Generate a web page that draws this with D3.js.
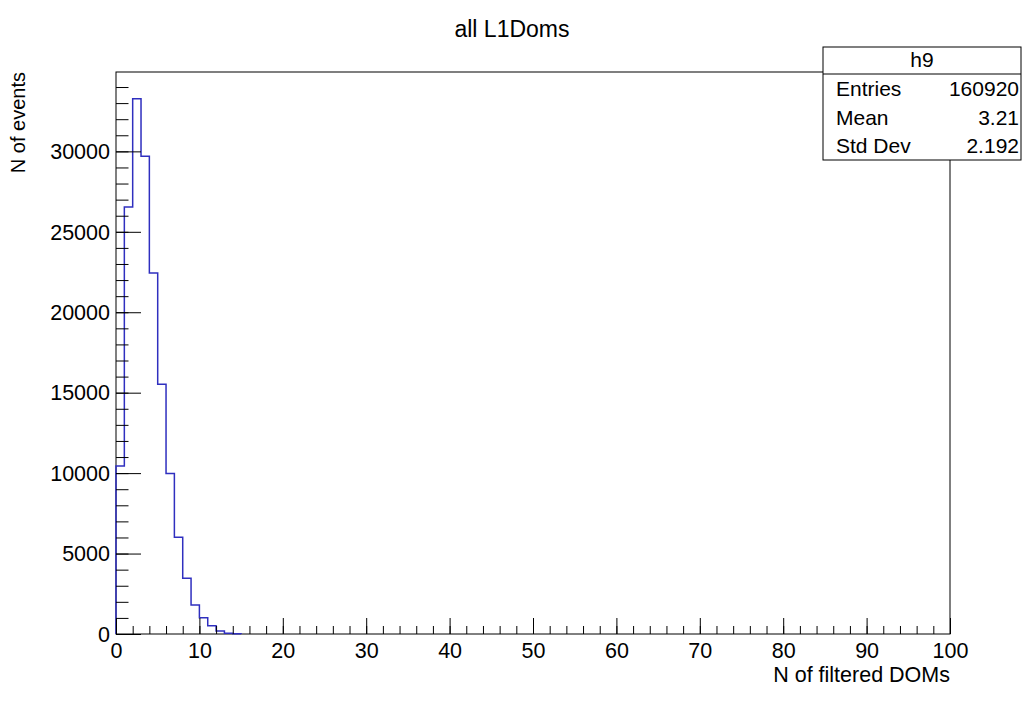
<!DOCTYPE html>
<html>
<head>
<meta charset="utf-8">
<script src="https://cdn.jsdelivr.net/npm/d3@7/dist/d3.min.js"></script>
<style>
  html, body { margin: 0; padding: 0; background: #fff; }
  svg { display: block; }
  text { font-family: "Liberation Sans", Arial, Helvetica, sans-serif; fill: #000; }
</style>
</head>
<body>
<svg id="chart" width="1025" height="723"></svg>
<script>
// ---- data ----
const binEdgesStart = 0;          // first bin low edge
const binWidth = 1;
const binCounts = [10450, 26540, 33270, 29690, 22440, 15530, 9980, 6010, 3460, 1800, 1010, 520, 190, 50, 15];
const xTicksMajor = [0, 10, 20, 30, 40, 50, 60, 70, 80, 90, 100];
const yTicksMajor = [0, 5000, 10000, 15000, 20000, 25000, 30000];
const titleText = "all L1Doms";
const xLabel = "N of filtered DOMs";
const yLabel = "N of events";
const statsName = "h9";
const statsLabels = ["Entries", "Mean", "Std Dev"];
const statsValues = ["160920", "3.21", "2.192"];

// ---- layout ----
const svg = d3.select("#chart");
const L = 116, R = 950, T = 72, B = 634;
const xMax = 100;
const yMax = d3.max(binCounts) * 1.05;

const x = d3.scaleLinear().domain([0, xMax]).range([L, R]);
const y = d3.scaleLinear().domain([0, yMax]).range([B, T]);

// frame
svg.append("rect").attr("x", L).attr("y", T).attr("width", R - L).attr("height", B - T)
  .attr("fill", "none").attr("stroke", "#000").attr("stroke-width", 1);

// histogram step path
let d = `M${x(binEdgesStart)},${y(0)}`;
binCounts.forEach((v, i) => {
  const x0 = binEdgesStart + i * binWidth, x1 = x0 + binWidth;
  d += `V${y(v)}H${x(x1)}`;
});
d += `V${y(0)}`;
svg.append("path").attr("d", d).attr("fill", "none")
  .attr("stroke", "#2f2fbf").attr("stroke-width", 1.5);

// axes
const fontSize = 21.5;
const xMinor = d3.range(0, xMax + 0.001, 2);
const gxMinor = svg.append("g").attr("transform", `translate(0,${B})`)
  .call(d3.axisBottom(x).tickValues(xMinor).tickSize(-8).tickFormat(""));
const gx = svg.append("g").attr("transform", `translate(0,${B})`)
  .call(d3.axisBottom(x).tickValues(xTicksMajor).tickSize(-16).tickFormat(d3.format("d")));
const yMinor = d3.range(0, yMax, 1000);
const gyMinor = svg.append("g").attr("transform", `translate(${L},0)`)
  .call(d3.axisLeft(y).tickValues(yMinor).tickSize(-12.5).tickFormat(""));
const gy = svg.append("g").attr("transform", `translate(${L},0)`)
  .call(d3.axisLeft(y).tickValues(yTicksMajor).tickSize(-25).tickFormat(d3.format("d")));

[gx, gy, gxMinor, gyMinor].forEach(g => {
  g.select(".domain").remove();
  g.selectAll("line").attr("stroke", "#000").attr("stroke-width", 1);
  g.selectAll("text").attr("font-size", fontSize).attr("fill", "#000")
    .style("font-family", '"Liberation Sans", Arial, Helvetica, sans-serif');
});
gx.selectAll("text").attr("dy", 0).attr("y", 24);
gy.selectAll("text").attr("x", -6).attr("dy", "0.34em");

// title
svg.append("text").attr("x", 512).attr("y", 37).attr("text-anchor", "middle")
  .attr("font-size", 23).text(titleText);

// axis labels
svg.append("text").attr("x", R).attr("y", 682).attr("text-anchor", "end")
  .attr("font-size", 21.5).text(xLabel);
svg.append("text").attr("transform", `translate(25,${T}) rotate(-90)`)
  .attr("text-anchor", "end").attr("font-size", 20).text(yLabel);

// stats box
const sx = 823, sy = 47, sw = 198, headH = 27, rowH = 28.5;
const sg = svg.append("g");
sg.append("rect").attr("x", sx).attr("y", sy).attr("width", sw).attr("height", headH + rowH * 3 + 0.5)
  .attr("fill", "#fff").attr("stroke", "#000").attr("stroke-width", 1);
sg.append("line").attr("x1", sx).attr("x2", sx + sw).attr("y1", sy + headH).attr("y2", sy + headH)
  .attr("stroke", "#000");
sg.append("text").attr("x", sx + sw / 2).attr("y", sy + 20).attr("text-anchor", "middle")
  .attr("font-size", 21).text(statsName);
statsLabels.forEach((lab, i) => {
  const yy = sy + headH + 22 + i * rowH;
  sg.append("text").attr("x", sx + 13).attr("y", yy).attr("font-size", 21).text(lab);
  sg.append("text").attr("x", sx + sw - 2).attr("y", yy).attr("text-anchor", "end")
    .attr("font-size", 21).text(statsValues[i]);
});
</script>
</body>
</html>
